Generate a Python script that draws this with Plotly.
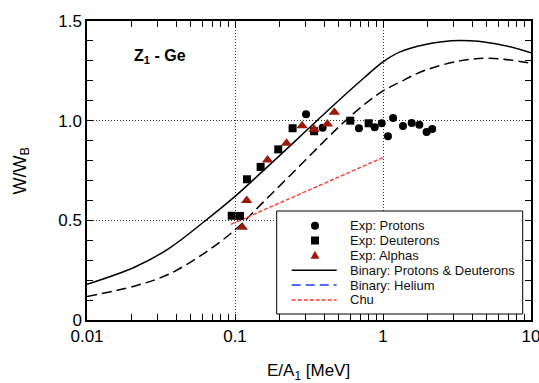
import plotly.graph_objects as go

# Experimental energy-loss straggling ratios W/W_B versus E/A_1 in Ge
proton_e = [0.302, 0.391, 0.688, 0.879, 0.98, 1.08, 1.17, 1.365, 1.563, 1.76, 1.97, 2.15]
proton_w = [1.032, 0.965, 0.962, 0.967, 0.987, 0.922, 1.013, 0.973, 0.988, 0.980, 0.943, 0.958]

deuteron_e = [0.095, 0.108, 0.1205, 0.149, 0.196, 0.245, 0.342, 0.601, 0.80]
deuteron_w = [0.523, 0.522, 0.706, 0.768, 0.856, 0.962, 0.947, 1.000, 0.987]

alpha_e = [0.112, 0.120, 0.166, 0.223, 0.284, 0.342, 0.421, 0.469]
alpha_w = [0.465, 0.599, 0.803, 0.887, 0.975, 0.957, 0.983, 1.042]

# Theory curves
binary_pd_e = [0.01, 0.0211, 0.0353, 0.0608, 0.1, 0.1546, 0.2624, 0.347, 0.571, 0.756,
               1.0, 1.303, 1.864, 3.313, 5.89, 10]
binary_pd_w = [0.179, 0.266, 0.356, 0.489, 0.620, 0.748, 0.906, 0.991, 1.139, 1.219,
               1.295, 1.345, 1.380, 1.402, 1.385, 1.341]

binary_he_e = [0.01, 0.0211, 0.0353, 0.0608, 0.1, 0.1546, 0.2624, 0.425, 0.5535, 0.756,
               1.0, 1.303, 1.864, 3.313, 5.28, 10]
binary_he_w = [0.118, 0.171, 0.228, 0.331, 0.452, 0.590, 0.760, 0.916, 0.998, 1.084,
               1.149, 1.194, 1.249, 1.300, 1.313, 1.288]

chu_e = [0.094, 0.2, 0.5, 1.0]
chu_w = [0.480, 0.587, 0.717, 0.815]

x_tickvals = [0.01, 0.1, 1, 10]
x_ticktext = ["0.01", "0.1", "1", "10"]
y_tickvals = [0, 0.5, 1.0, 1.5]
y_ticktext = ["0", "0.5", "1.0", "1.5"]

legend_labels = ["Exp: Protons", "Exp: Deuterons", "Exp: Alphas",
                 "Binary: Protons & Deuterons", "Binary: Helium", "Chu"]

FONT = "Liberation Sans, Arial, sans-serif"
ALPHA_RED = "#9b1a0c"
CHU_RED = "#ff3a2a"
HE_BLUE = "#1a3cff"

fig = go.Figure()

fig.add_trace(go.Scatter(x=binary_pd_e, y=binary_pd_w, mode="lines",
                         line=dict(color="black", width=1.5, shape="spline", smoothing=1.0)))
fig.add_trace(go.Scatter(x=binary_he_e, y=binary_he_w, mode="lines",
                         line=dict(color="black", width=1.5, dash="10px,5px",
                                   shape="spline", smoothing=1.0)))
fig.add_trace(go.Scatter(x=chu_e, y=chu_w, mode="lines",
                         line=dict(color=CHU_RED, width=1.4, dash="4px,2px")))

fig.add_trace(go.Scatter(x=proton_e, y=proton_w, mode="markers",
                         marker=dict(symbol="circle", size=8, color="black")))
fig.add_trace(go.Scatter(x=deuteron_e, y=deuteron_w, mode="markers",
                         marker=dict(symbol="square", size=8, color="black")))
fig.add_trace(go.Scatter(x=alpha_e, y=alpha_w, mode="markers",
                         marker=dict(symbol="triangle-up", size=10, color=ALPHA_RED)))

# Plot area in pixels: x 87..531, y 21..320
L, R, T, B = 87, 531, 21, 320


def px(xp):
    return (xp - L) / (R - L)


def py(yp):
    return (B - yp) / (B - T)


shapes = []
annotations = []

# Legend frame
shapes.append(dict(type="rect", xref="paper", yref="paper",
                   x0=px(276.7), x1=px(522.7), y0=py(314), y1=py(211),
                   line=dict(color="black", width=1), fillcolor="white", layer="above"))

rows = [225.7, 240.5, 255.3, 270.2, 285.0, 299.9]
sym_x = px(315)
for lab, r in zip(legend_labels, rows):
    annotations.append(dict(text=lab, x=px(348.3), y=py(r), xref="paper", yref="paper",
                            xanchor="left", yanchor="middle", showarrow=False,
                            font=dict(family=FONT, size=13, color="#111")))

marker_common = dict(xref="paper", yref="paper", xsizemode="pixel", ysizemode="pixel",
                     xanchor=sym_x, layer="above", line=dict(width=0))
shapes.append(dict(type="circle", yanchor=py(rows[0]), x0=-4, x1=4, y0=-4, y1=4,
                   fillcolor="black", **marker_common))
shapes.append(dict(type="rect", yanchor=py(rows[1]), x0=-4, x1=4, y0=-4, y1=4,
                   fillcolor="black", **marker_common))
shapes.append(dict(type="path", yanchor=py(rows[2]), path="M-4.5,-3.5 L4.5,-3.5 L0,4.5 Z",
                   fillcolor=ALPHA_RED, **marker_common))

line_styles = [("black", "solid"), (HE_BLUE, "9px,5px"), (CHU_RED, "4px,2px")]
for (col, dash), r in zip(line_styles, rows[3:]):
    shapes.append(dict(type="line", xref="paper", yref="paper",
                       x0=px(291.7), x1=px(336.7), y0=py(r), y1=py(r),
                       line=dict(color=col, width=1.5, dash=dash), layer="above"))

# Panel label
annotations.append(dict(text="<b>Z<sub>1</sub> - Ge</b>", x=px(132), y=py(56),
                        xref="paper", yref="paper", xanchor="left", yanchor="middle",
                        showarrow=False, font=dict(family=FONT, size=16, color="black")))

# Axis titles
annotations.append(dict(text="E/A<sub>1</sub> [MeV]", x=px(308.7), y=py(372),
                        xref="paper", yref="paper", xanchor="center", yanchor="middle",
                        showarrow=False, font=dict(family=FONT, size=17, color="black")))
annotations.append(dict(text="W/W<sub>B</sub>", x=px(21), y=py(171.5), textangle=-90,
                        xref="paper", yref="paper", xanchor="center", yanchor="middle",
                        showarrow=False, font=dict(family=FONT, size=18, color="black")))

axis_common = dict(showline=True, linecolor="black", linewidth=1.5, mirror="allticks",
                   ticks="inside", ticklen=6, tickcolor="black", tickwidth=1,
                   showgrid=True, gridcolor="#333", gridwidth=1, griddash="1px,2px",
                   zeroline=False, automargin=False, ticklabeloverflow="allow",
                   tickfont=dict(family=FONT, size=17, color="black"))

fig.update_xaxes(type="log", range=[-2, 1], tickmode="array", tickvals=x_tickvals,
                 ticktext=x_ticktext,
                 minor=dict(ticks="inside", ticklen=6, dtick="D1", tickcolor="black",
                            showgrid=False),
                 **axis_common)
fig.update_yaxes(range=[0, 1.5], tickmode="array", tickvals=y_tickvals, ticktext=y_ticktext,
                 minor=dict(ticks="inside", ticklen=6, dtick=0.1, tickcolor="black",
                            showgrid=False),
                 **axis_common)

fig.update_layout(width=539, height=383, margin=dict(l=L, r=539 - R, t=T, b=383 - B),
                  paper_bgcolor="white", plot_bgcolor="white", showlegend=False,
                  shapes=shapes, annotations=annotations,
                  font=dict(family=FONT, color="black"))

fig.write_html("out.html")
